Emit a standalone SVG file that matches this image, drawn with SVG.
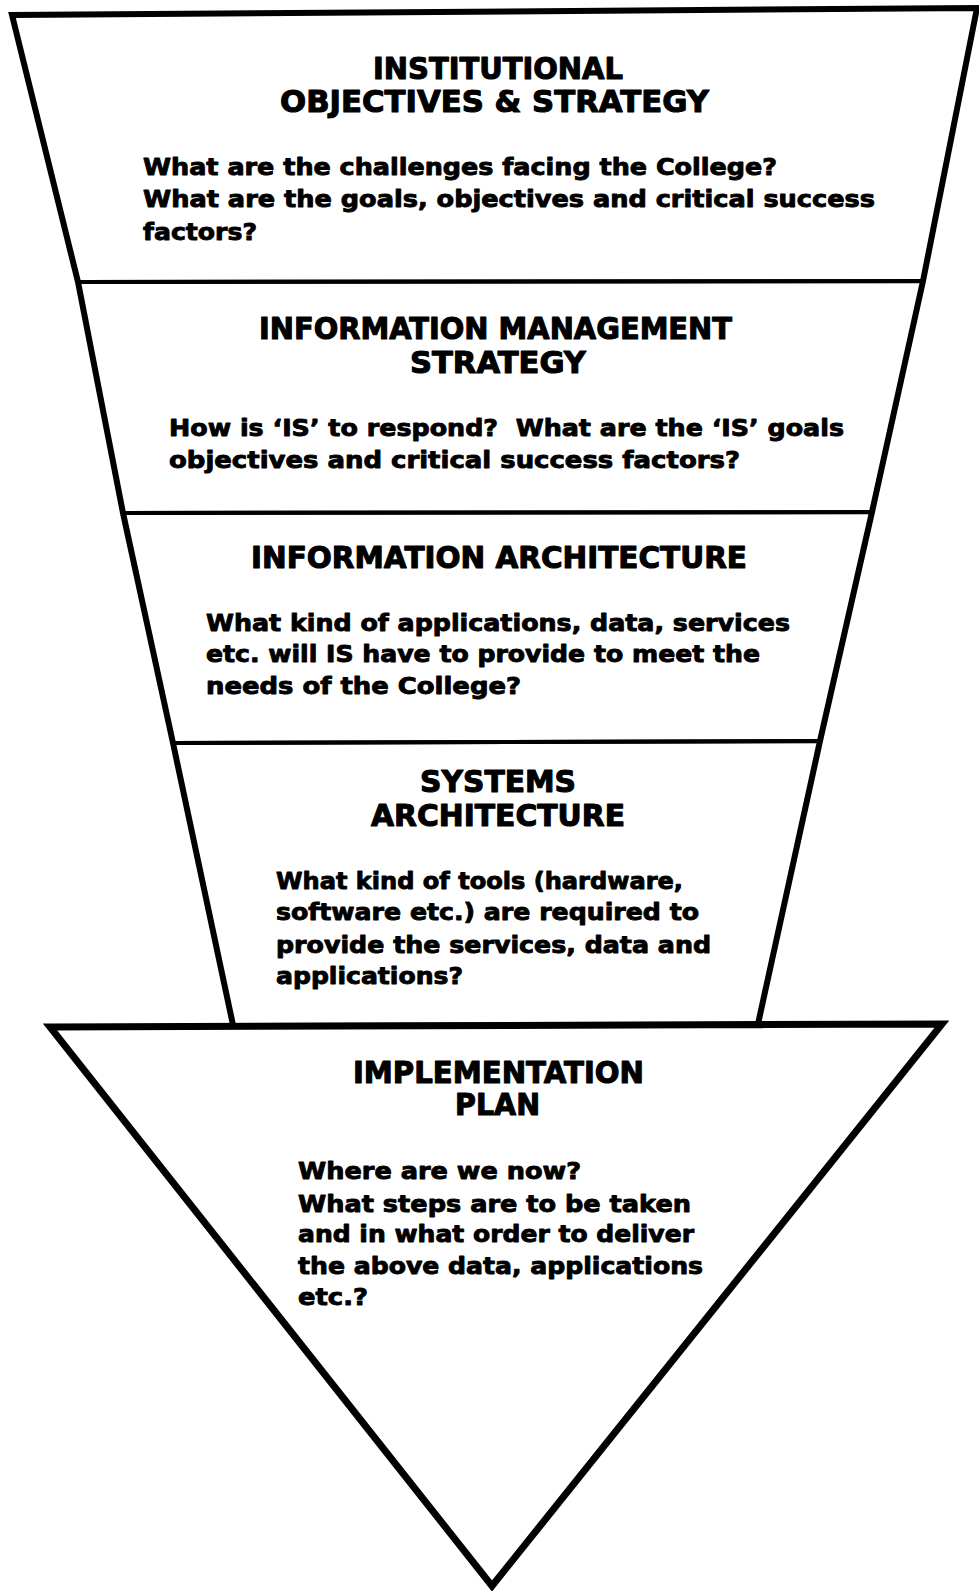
<svg xmlns="http://www.w3.org/2000/svg" width="979" height="1591" viewBox="0 0 979 1591">
<style>
  .bg { fill: #ffffff; }
  .band { fill: none; stroke: #000; stroke-width: 4; stroke-linejoin: miter; }
  .outline { fill: none; stroke: #000; stroke-width: 6; stroke-linejoin: miter; stroke-linecap: round; }
  .tri { fill: none; stroke: #000; stroke-width: 7; stroke-linejoin: miter; }
  .title { font-family: "DejaVu Sans", "Liberation Sans", Arial, sans-serif; font-weight: bold; font-size: 30px; fill: #000; stroke: #000; stroke-width: 1.1; stroke-linejoin: round; }
  .body { font-family: "DejaVu Sans", "Liberation Sans", Arial, sans-serif; font-weight: bold; font-size: 23px; fill: #000; stroke: #000; stroke-width: 0.9; stroke-linejoin: round; }
</style>
<rect class="bg" x="0" y="0" width="979" height="1591"/>

<g id="institutional-objectives">
  <polygon class="band" points="12,15 977,8 923,281 78,282"/>
  <text class="title" x="373" y="79" textLength="250" lengthAdjust="spacingAndGlyphs">INSTITUTIONAL</text>
  <text class="title" x="280" y="112" textLength="429" lengthAdjust="spacingAndGlyphs">OBJECTIVES &amp; STRATEGY</text>
  <text class="body" x="143" y="175" textLength="634" lengthAdjust="spacingAndGlyphs">What are the challenges facing the College?</text>
  <text class="body" x="143" y="207" textLength="732" lengthAdjust="spacingAndGlyphs">What are the goals, objectives and critical success</text>
  <text class="body" x="143" y="240" textLength="114" lengthAdjust="spacingAndGlyphs">factors?</text>
</g>

<g id="information-management-strategy">
  <polygon class="band" points="78,282 923,281 872,512 123,513"/>
  <text class="title" x="259" y="339" textLength="473" lengthAdjust="spacingAndGlyphs">INFORMATION MANAGEMENT</text>
  <text class="title" x="410" y="373" textLength="176" lengthAdjust="spacingAndGlyphs">STRATEGY</text>
  <text class="body" x="169" y="436" textLength="675" lengthAdjust="spacingAndGlyphs">How is &#8216;IS&#8217; to respond?&#160; What are the &#8216;IS&#8217; goals</text>
  <text class="body" x="169" y="468" textLength="571" lengthAdjust="spacingAndGlyphs">objectives and critical success factors?</text>
</g>

<g id="information-architecture">
  <polygon class="band" points="123,513 872,512 820,741 173,743"/>
  <text class="title" x="251" y="568" textLength="496" lengthAdjust="spacingAndGlyphs">INFORMATION ARCHITECTURE</text>
  <text class="body" x="206" y="631" textLength="584" lengthAdjust="spacingAndGlyphs">What kind of applications, data, services</text>
  <text class="body" x="206" y="662" textLength="554" lengthAdjust="spacingAndGlyphs">etc. will IS have to provide to meet the</text>
  <text class="body" x="206" y="694" textLength="315" lengthAdjust="spacingAndGlyphs">needs of the College?</text>
</g>

<g id="systems-architecture">
  <polygon class="band" points="173,743 820,741 758,1024 233,1025"/>
  <text class="title" x="420" y="792" textLength="156" lengthAdjust="spacingAndGlyphs">SYSTEMS</text>
  <text class="title" x="371" y="826" textLength="254" lengthAdjust="spacingAndGlyphs">ARCHITECTURE</text>
  <text class="body" x="276" y="889" textLength="407" lengthAdjust="spacingAndGlyphs">What kind of tools (hardware,</text>
  <text class="body" x="276" y="920" textLength="423" lengthAdjust="spacingAndGlyphs">software etc.) are required to</text>
  <text class="body" x="276" y="953" textLength="435" lengthAdjust="spacingAndGlyphs">provide the services, data and</text>
  <text class="body" x="276" y="984" textLength="187" lengthAdjust="spacingAndGlyphs">applications?</text>
</g>

<g id="funnel-outline">
  <path class="outline" d="M 233,1025 L 173,743 L 123,513 L 78,282 L 12,15 L 977,8 L 923,281 L 872,512 L 820,741 L 758,1024"/>
</g>

<g id="implementation-plan">
  <polygon class="tri" points="50,1027 942,1024 492,1586"/>
  <text class="title" x="353" y="1083" textLength="291" lengthAdjust="spacingAndGlyphs">IMPLEMENTATION</text>
  <text class="title" x="455" y="1115" textLength="85" lengthAdjust="spacingAndGlyphs">PLAN</text>
  <text class="body" x="298" y="1179" textLength="283" lengthAdjust="spacingAndGlyphs">Where are we now?</text>
  <text class="body" x="298" y="1212" textLength="393" lengthAdjust="spacingAndGlyphs">What steps are to be taken</text>
  <text class="body" x="298" y="1242" textLength="396" lengthAdjust="spacingAndGlyphs">and in what order to deliver</text>
  <text class="body" x="298" y="1274" textLength="405" lengthAdjust="spacingAndGlyphs">the above data, applications</text>
  <text class="body" x="298" y="1305" textLength="70" lengthAdjust="spacingAndGlyphs">etc.?</text>
</g>

<g id="connectors"></g>
</svg>
